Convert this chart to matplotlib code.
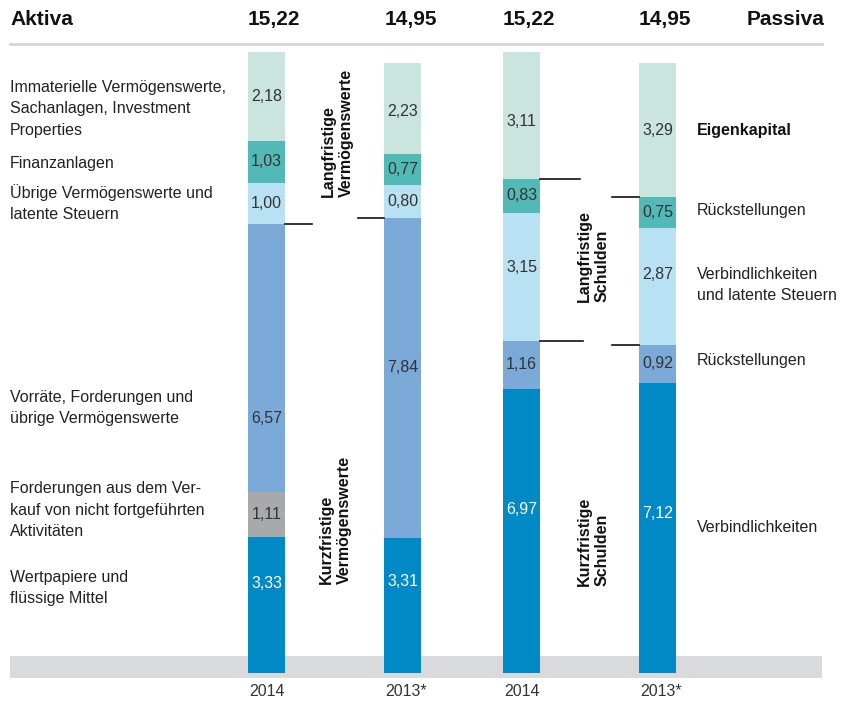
import matplotlib
matplotlib.use("Agg")
import matplotlib.pyplot as plt
from matplotlib.patches import Rectangle

plt.rcParams['font.family'] = ['Liberation Sans', 'DejaVu Sans']

# ---------------- data ----------------
bar_years = ["2014", "2013*", "2014", "2013*"]
bar_totals = ["15,22", "14,95", "15,22", "14,95"]

# segments bottom -> top
aktiva_2014 = [3.33, 1.11, 6.57, 1.00, 1.03, 2.18]
aktiva_2013 = [3.31, 0.00, 7.84, 0.80, 0.77, 2.23]
aktiva_colors = ["#0089c4", "#a8a9aa", "#7ba9d8", "#b9e1f4", "#52b9b6", "#c9e5de"]

passiva_2014 = [6.97, 1.16, 3.15, 0.83, 3.11]
passiva_2013 = [7.12, 0.92, 2.87, 0.75, 3.29]
passiva_colors = ["#0089c4", "#7ba9d8", "#b9e1f4", "#52b9b6", "#c9e5de"]

aktiva_labels = [
    "Wertpapiere und\nflüssige Mittel",
    "Forderungen aus dem Ver-\nkauf von nicht fortgeführten\nAktivitäten",
    "Vorräte, Forderungen und\nübrige Vermögenswerte",
    "Übrige Vermögenswerte und\nlatente Steuern",
    "Finanzanlagen",
    "Immaterielle Vermögenswerte,\nSachanlagen, Investment\nProperties",
]
passiva_labels = [
    "Verbindlichkeiten",
    "Rückstellungen",
    "Verbindlichkeiten\nund latente Steuern",
    "Rückstellungen",
    "Eigenkapital",
]

# ---------------- layout ----------------
W, H = 841, 704
Y0 = 673.0      # pixel row of value 0
PX = 40.8       # pixels per unit
def vy(p):
    return (Y0 - p) / PX

bar_x = [266.5, 403.0, 521.5, 657.5]
bar_w = 37
text_col = "#222222"
FS = 11.5
LS = 1.55

fig = plt.figure(figsize=(W / 100, H / 100), dpi=100)
ax = fig.add_axes([0, 0, 1, 1])
ax.set_xlim(0, W)
ax.set_ylim(vy(H), vy(0))
ax.axis("off")

# gray base band
ax.add_patch(Rectangle((10, vy(678)), 812, (678 - 656) / PX, color="#d9dadb", zorder=0, lw=0))
# header separator
ax.plot([10, 822], [vy(44), vy(44)], color="#d6d6d6", lw=2, zorder=1)

series = [(aktiva_2014, aktiva_colors), (aktiva_2013, aktiva_colors),
          (passiva_2014, passiva_colors), (passiva_2013, passiva_colors)]

# label position overrides (pixel rows) for big segments: (bar, segment) -> row
label_rows = {(0, 2): 418, (0, 0): 583, (1, 2): 368, (1, 0): 582, (1, 5): 112,
              (2, 0): 509, (2, 2): 267, (2, 4): 122, (3, 0): 513, (3, 2): 274}

bounds = []
for i, (vals, cols) in enumerate(series):
    bottom = 0.0
    b = []
    for j, (v, c) in enumerate(zip(vals, cols)):
        if v > 0:
            ax.bar(bar_x[i], v, bottom=bottom, width=bar_w, color=c, lw=0, zorder=2)
            ymid = bottom + v / 2
            if (i, j) in label_rows:
                ymid = vy(label_rows[(i, j)])
            tc = "white" if c == "#0089c4" else "#333333"
            ax.text(bar_x[i], ymid, f"{v:.2f}".replace(".", ","), ha="center", va="center",
                    fontsize=FS, color=tc, zorder=3)
        bottom += v
        b.append(bottom)
    bounds.append(b)

# connector lines
lk = dict(color="#111111", lw=1.2, zorder=3)
r0 = bar_x[0] + bar_w / 2
ax.plot([r0, r0 + 27], [bounds[0][2], bounds[0][2]], **lk)
l1 = bar_x[1] - bar_w / 2
ax.plot([l1 - 26, l1], [bounds[1][2], bounds[1][2]], **lk)
r2 = bar_x[2] + bar_w / 2
ax.plot([r2, r2 + 40], [bounds[2][3], bounds[2][3]], **lk)
ax.plot([r2, r2 + 43], [bounds[2][1], bounds[2][1]], **lk)
l3 = bar_x[3] - bar_w / 2
ax.plot([l3 - 27, l3], [bounds[3][3], bounds[3][3]], **lk)
ax.plot([l3 - 27, l3], [bounds[3][1], bounds[3][1]], **lk)

# header
ax.text(10, vy(20), "Aktiva", ha="left", va="center", fontsize=15, fontweight="bold", color="#111111")
ax.text(825, vy(20), "Passiva", ha="right", va="center", fontsize=15, fontweight="bold", color="#111111")
for x, t in zip(bar_x, bar_totals):
    ax.text(x - bar_w / 2, vy(20), t, ha="left", va="center", fontsize=15, fontweight="bold", color="#111111")

# years
for x, t in zip(bar_x, bar_years):
    ax.text(x - bar_w / 2 + 1, vy(692), t, ha="left", va="center", fontsize=FS, color="#333333")

# left labels
aktiva_rows = [588, 510, 408, 203, 163, 109]
for t, r in zip(aktiva_labels, aktiva_rows):
    ax.text(10, vy(r), t, ha="left", va="center", fontsize=FS, color=text_col, linespacing=LS)

# right labels
passiva_rows = [527, 360, 285, 211, 131]
for k, (t, r) in enumerate(zip(passiva_labels, passiva_rows)):
    ax.text(697, vy(r), t, ha="left", va="center", fontsize=FS, color="#111111" if k == 4 else text_col,
            fontweight="bold" if k == 4 else "normal", linespacing=LS)

# vertical group labels
vk = dict(rotation=90, rotation_mode="anchor", ha="left", va="center", fontsize=FS,
          fontweight="bold", color="#111111", linespacing=1.25, multialignment="left")
ax.text(337, vy(197), "Langfristige\nVermögenswerte", **vk)
ax.text(335, vy(584), "Kurzfristige\nVermögenswerte", **vk)
ax.text(593, vy(302), "Langfristige\nSchulden", **vk)
ax.text(593, vy(586), "Kurzfristige\nSchulden", **vk)

fig.savefig("out.png", dpi=100)
